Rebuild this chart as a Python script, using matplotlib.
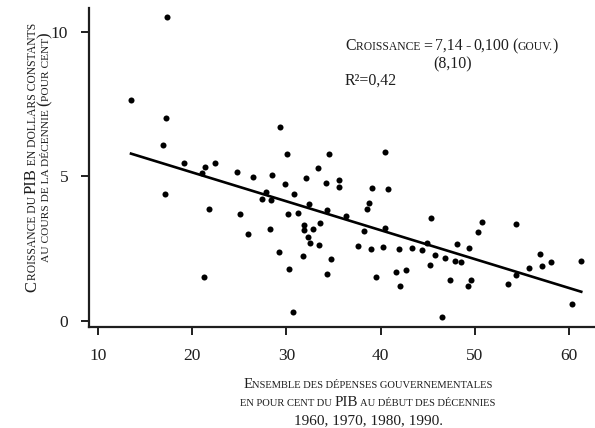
import matplotlib
matplotlib.use("Agg")
import matplotlib.pyplot as plt
from matplotlib.font_manager import FontProperties
from matplotlib.transforms import IdentityTransform

SERIF = "Liberation Serif"
INK = "#1e1e1e"

# government spending (% of GDP) vs. decade growth (%)
gov_spending = [
    17.3, 13.5, 17.2, 16.9, 17.1, 19.1, 21.4, 21.0, 22.4, 24.7,
    21.8, 25.1, 21.2, 29.3, 30.1, 34.5, 26.5, 28.5, 29.8, 32.1,
    33.4, 34.2, 35.6, 35.6, 27.8, 27.4, 28.4, 30.8, 32.4, 34.3,
    36.3, 25.9, 28.3, 30.2, 31.2, 31.9, 31.9, 32.8, 33.6, 32.3,
    32.5, 33.5, 29.2, 31.8, 34.7, 30.3, 34.3, 30.7, 37.6, 40.5,
    39.1, 40.8, 38.8, 38.6, 45.4, 38.2, 40.5, 44.9, 48.1, 39.0,
    40.2, 41.9, 43.3, 44.4, 45.8, 45.2, 46.8, 47.9, 48.5, 49.4,
    50.3, 50.8, 47.4, 49.6, 49.3, 46.5, 54.4, 53.5, 54.4, 55.8,
    56.9, 57.1, 58.1, 61.3, 60.3, 39.5, 41.6, 42.1, 42.7,
]
growth = [
    10.52, 7.65, 7.02, 6.09, 4.39, 5.47, 5.33, 5.12, 5.47, 5.16,
    3.88, 3.70, 1.52, 6.71, 5.78, 5.78, 4.98, 5.05, 4.74, 4.95,
    5.29, 4.78, 4.88, 4.64, 4.46, 4.22, 4.19, 4.39, 4.05, 3.84,
    3.63, 3.01, 3.18, 3.70, 3.74, 3.32, 3.15, 3.18, 3.39, 2.91,
    2.70, 2.63, 2.39, 2.25, 2.15, 1.80, 1.63, 0.31, 2.60, 5.85,
    4.60, 4.57, 4.08, 3.88, 3.56, 3.11, 3.22, 2.70, 2.66, 2.49,
    2.56, 2.49, 2.53, 2.46, 2.28, 1.94, 2.18, 2.08, 2.04, 2.53,
    3.08, 3.43, 1.42, 1.42, 1.21, 0.14, 3.36, 1.28, 1.59, 1.83,
    2.32, 1.90, 2.04, 2.08, 0.59, 1.52, 1.70, 1.21, 1.76,
]
INTERCEPT = 7.14
SLOPE = -0.100

x_ticks = [10, 20, 30, 40, 50, 60]
y_ticks = [0, 5, 10]

H = 428


def caps(fig, x, y, text, big, small, rot=0, ha="center"):
    """Fake small caps: capitals stay big, lowercase becomes small capitals.
    x, y are pixels from the top-left corner."""
    r = fig.canvas.get_renderer()
    runs = []
    for ch in text:
        size = small if (ch.islower() or ch in " .") else big
        if runs and runs[-1][1] == size:
            runs[-1][0] += ch.upper()
        else:
            runs.append([ch.upper(), size])
    widths = []
    for s, size in runs:
        fp = FontProperties(family=SERIF, size=size)
        w1 = r.get_text_width_height_descent(s + "I", fp, False)[0]
        w0 = r.get_text_width_height_descent("I", fp, False)[0]
        widths.append(w1 - w0)
    total = sum(widths)
    start = -total / 2 if ha == "center" else 0
    pos = start
    for (s, size), w in zip(runs, widths):
        if rot == 0:
            px, py = x + pos, H - y
        else:
            px, py = x, H - y + pos
        fig.text(px, py, s, transform=IdentityTransform(), fontsize=size,
                 family=SERIF, color=INK, rotation=rot, rotation_mode="anchor",
                 ha="left", va="baseline")
        pos += w


fig = plt.figure(figsize=(5.95, 4.28), dpi=100)
fig.patch.set_facecolor("white")
ax = fig.add_axes([89 / 595, 101 / 428, 506 / 595, 319 / 428])
ax.set_xlim(9.04, 62.76)
ax.set_ylim(-0.21, 10.83)

ax.scatter(gov_spending, growth, s=19, color="black", linewidths=0, zorder=3)
x0, x1 = min(gov_spending), max(gov_spending)
ax.plot([x0, x1], [INTERCEPT + SLOPE * x0, INTERCEPT + SLOPE * x1],
        color="black", linewidth=1.9, zorder=2)

for side in ("top", "right"):
    ax.spines[side].set_visible(False)
for side in ("left", "bottom"):
    ax.spines[side].set_linewidth(1.6)
    ax.spines[side].set_color(INK)
ax.set_xticks(x_ticks)
ax.set_yticks(y_ticks)
ax.tick_params(axis="both", direction="out", length=6, width=1.4, color=INK,
               labelcolor=INK)
ax.tick_params(axis="x", pad=9, labelsize=12.5)
ax.tick_params(axis="y", pad=9, labelsize=12.5)
for lab in ax.get_xticklabels() + ax.get_yticklabels():
    lab.set_family(SERIF)

# regression annotation
caps(fig, 345, 50, "Croissance = 7,14 - 0,100 (gouv.)", 11.4, 8.4, ha="left")
caps(fig, 453, 68, "(8,10)", 11.4, 8.4)
caps(fig, 345, 85, "R²=0,42", 11.4, 8.4, ha="left")

# y label (two rotated lines)
caps(fig, 36, 157, "Croissance du PIB en dollars constants", 12, 8.4, rot=90)
caps(fig, 49, 147, "au cours de la décennie (pour cent)", 12, 8.2, rot=90)

# x label
caps(fig, 368, 388, "Ensemble des dépenses gouvernementales", 10.8, 7.6)
caps(fig, 368, 406, "en pour cent du PIB au début des décennies", 10.8, 7.6)
caps(fig, 368, 424, "1960, 1970, 1980, 1990.", 11, 11)

fig.savefig("out.png", dpi=100, facecolor="white")
